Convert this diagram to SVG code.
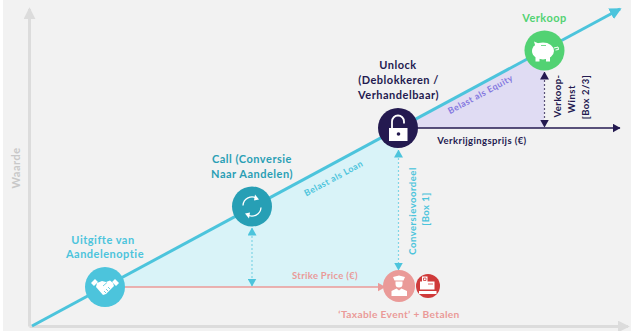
<svg xmlns="http://www.w3.org/2000/svg" width="631" height="331" viewBox="0 0 631 331">
<style>
text{font-family:"Lato","Liberation Sans",sans-serif;font-weight:700;text-anchor:middle;letter-spacing:.5px}
.b{fill:#4cc4dc}.t{fill:#2a9fb5}.n{fill:#241a50}.g{fill:#52d273}.r{fill:#ea9a98}.p{fill:#8478e0}
.s{font-size:11px}.m{font-size:9.5px}.x{font-size:8.800px}.w{fill:#fff}
</style>
<defs>
<marker id="ag" markerWidth="4" markerHeight="4" refX="3.4" refY="2" orient="auto" markerUnits="strokeWidth"><path d="M0 0L4 2L0 4Z" fill="#dcdcdc"/></marker>
<marker id="ab" markerWidth="4" markerHeight="4" refX="3.4" refY="2" orient="auto" markerUnits="strokeWidth"><path d="M0 0L4 2L0 4Z" fill="#4cc4dc"/></marker>
<marker id="ab2" markerWidth="8" markerHeight="9" refX="7.5" refY="4.5" orient="auto-start-reverse" markerUnits="userSpaceOnUse"><path d="M0 0L8 4.5L0 9Z" fill="#4cc4dc"/></marker>
<marker id="an" markerWidth="8" markerHeight="9" refX="7.5" refY="4.5" orient="auto-start-reverse" markerUnits="userSpaceOnUse"><path d="M0 0L8 4.5L0 9Z" fill="#241a50"/></marker>
<marker id="ar" markerWidth="8" markerHeight="9" refX="7.5" refY="4.5" orient="auto" markerUnits="userSpaceOnUse"><path d="M0 0L8 4.5L0 9Z" fill="#ea9a98"/></marker>
</defs>
<rect width="631" height="331" fill="#fff"/>
<rect x="3" y="0" width="628" height="331" fill="#f2f2f2"/>
<path d="M105 287L398 128V287Z" fill="#d9f3f8"/>
<path d="M398 128L544 50V128Z" fill="#e0dcf3"/>
<g id="connectors" fill="none">
<path d="M29.500 326.500V9" stroke="#dcdcdc" stroke-width="3" marker-end="url(#ag)"/>
<path d="M29.500 326.500H628" stroke="#dcdcdc" stroke-width="3" marker-end="url(#ag)"/>
<path d="M32 326L620 9" stroke="#4cc4dc" stroke-width="3" marker-end="url(#ab)"/>
<path d="M120 287H385" stroke="#ea9a98" stroke-width="1.500" marker-end="url(#ar)"/>
<path d="M415 128H620" stroke="#241a50" stroke-width="1.500" marker-end="url(#an)"/>
<path d="M252 228V286" stroke="#7fd5e6" stroke-width="1.200" stroke-dasharray="2 2" marker-start="url(#ab2)" marker-end="url(#ab2)"/>
<path d="M398.500 150V270" stroke="#7fd5e6" stroke-width="1.200" stroke-dasharray="2 2" marker-start="url(#ab2)" marker-end="url(#ab2)"/>
<path d="M544.500 72V127" stroke="#5a5278" stroke-width="1.200" stroke-dasharray="2 2" marker-start="url(#an)" marker-end="url(#an)"/>
</g>
<text transform="translate(20 168) rotate(-90)" class="s" fill="#c8c8c8">Waarde</text>
<g id="node-uitgifte">
<circle cx="105" cy="287" r="20" class="b"/>
<path d="M91 283L95 279L98 282L94 286ZM119 283L115 279L112 282L116 286Z" class="w"/>
<path d="M97 283L102 281L106 282L110 280.500L113 283L114 286L106 294L103 295L96 287Z" class="w"/>
<path d="M103 286L107 282.500M104 291L106 293M106 289L108 291M108 287L110 289" fill="none" stroke="#4cc4dc" stroke-width=".8"/>
<text x="103" y="244" class="s b">Uitgifte van</text>
<text x="105" y="258" class="s b">Aandelenoptie</text>
</g>
<g id="node-call">
<circle cx="252" cy="206.500" r="20" fill="#279fb5"/>
<path d="M243 205.500a9 9 0 0 1 14-7M261 207.500a9 9 0 0 1-14 7" fill="none" stroke="#fff" stroke-width="1.300"/>
<path d="M255 194.500l4 5-5 1ZM249 218.500l-4-5 5-1Z" class="w"/>
<text x="252" y="163" class="s t">Call (Conversie</text>
<text x="252" y="178" class="s t">Naar Aandelen)</text>
</g>
<g id="node-unlock">
<circle cx="398" cy="128" r="20" class="n"/>
<rect x="389" y="128" width="18.500" height="13" class="w"/>
<path d="M392 128v-6.500a6 6 0 0 1 12 0v2" fill="none" stroke="#fff" stroke-width="1.800"/>
<circle cx="398.500" cy="134" r="1.800" class="n"/>
<text x="398" y="69" class="s n">Unlock</text>
<text x="398.500" y="84" class="s n">(Deblokkeren /</text>
<text x="398.500" y="99" class="s n">Verhandelbaar)</text>
</g>
<g id="node-verkoop">
<circle cx="544.500" cy="50.500" r="20" class="g"/>
<ellipse cx="543" cy="51" rx="11" ry="8.500" class="w"/>
<path d="M534 41.500l7 3-5 4ZM535.500 56h4v5.500h-4ZM546 56h4v5.500h-4Z" class="w"/>
<path d="M554 48l4-1 .5 2.500-3 .5" fill="none" stroke="#fff" stroke-width="1"/>
<path d="M541 45.500h5" stroke="#52d273" stroke-width=".8"/>
<text x="544.500" y="22" class="s g">Verkoop</text>
</g>
<g id="node-taxable">
<circle cx="399" cy="286" r="16" class="r"/>
<path d="M393 277l6-1.500 6 1.500-1.500 3.500h-9ZM395.500 281.500h7v2.500a3.500 3.500 0 0 1-7 0ZM391.500 296v-5l5-2.500 2.500 2 2.500-2 5.500 2.500v5Z" class="w"/>
<circle cx="428" cy="286" r="12" fill="#cf3a3a"/>
<path d="M422 276.500h5.500v5h7v8h-14.500v-8h2ZM419 291h17.500v3h-17.500Z" class="w"/>
<path d="M423.500 278h2.500v2.500h-2.500ZM428 284h5" fill="none" stroke="#cf3a3a" stroke-width=".8"/>
<text x="399" y="318" class="r" style="font-size:10.200px;letter-spacing:.35px">‘Taxable Event’ + Betalen</text>
</g>
<g id="labels">
<text x="325" y="279" class="m r" style="letter-spacing:.3px">Strike Price (€)</text>
<text x="482" y="144" class="m n" style="letter-spacing:.4px">Verkrijgingsprijs (€)</text>
<text transform="translate(335 181) rotate(-28.400)" class="x b">Belast als Loan</text>
<text transform="translate(482 97) rotate(-28.400)" class="x p">Belast als Equity</text>
<text transform="translate(416 211) rotate(-90)" class="m b">Conversievoordeel</text>
<text transform="translate(429 209) rotate(-90)" class="m b">[Box 1]</text>
<text transform="translate(561 96) rotate(-90)" class="m n">Verkoop-</text>
<text transform="translate(575 99) rotate(-90)" class="m n">Winst</text>
<text transform="translate(589 97) rotate(-90)" class="m n">[Box 2/3]</text>
</g>
</svg>
